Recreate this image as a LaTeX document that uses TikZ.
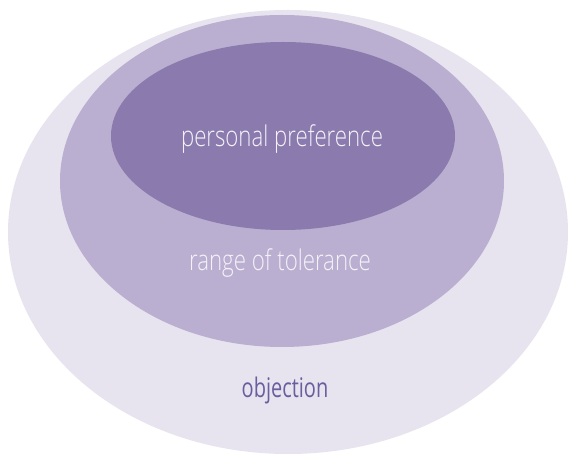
\documentclass[tikz,border=0pt]{standalone}
\usepackage{fontspec}
\newfontfamily\lblfont[FakeStretch=0.78]{Open Sans Light}
\newfontfamily\objfont[FakeStretch=0.74]{Open Sans}
\definecolor{outerc}{HTML}{E7E4EF}
\definecolor{midc}{HTML}{BAAFD0}
\definecolor{innerc}{HTML}{8A7AAE}
\definecolor{lighttxt}{HTML}{F4F2F8}
\definecolor{darktxt}{HTML}{6B5E9E}
\tikzset{
  zone/.style={ellipse, draw=none, inner sep=0pt},
  lbl/.style={font=\lblfont\fontsize{28.5}{32}\selectfont, anchor=base, inner sep=0pt},
  objlbl/.style={font=\objfont\fontsize{27}{32}\selectfont, anchor=base, inner sep=0pt}
}
\usetikzlibrary{shapes.geometric}
\begin{document}
\begin{tikzpicture}[x=1pt,y=1pt]
\useasboundingbox (0,0) rectangle (570,455);
\fill[white] (0,0) rectangle (570,455);
\node[zone, fill=outerc, minimum width=560, minimum height=444] (outer) at (288,223) {};
\node[zone, fill=midc, minimum width=444, minimum height=332] (middle) at (282,274) {};
\node[zone, fill=innerc, minimum width=344, minimum height=188] (inner) at (283,319) {};
\node[lbl, text=lighttxt] (pp) at (282,308) {personal preference};
\node[lbl, text=lighttxt] (rt) at (280,184) {range of tolerance};
\node[objlbl, text=darktxt] (obj) at (285,57) {objection};
\end{tikzpicture}
\end{document}
